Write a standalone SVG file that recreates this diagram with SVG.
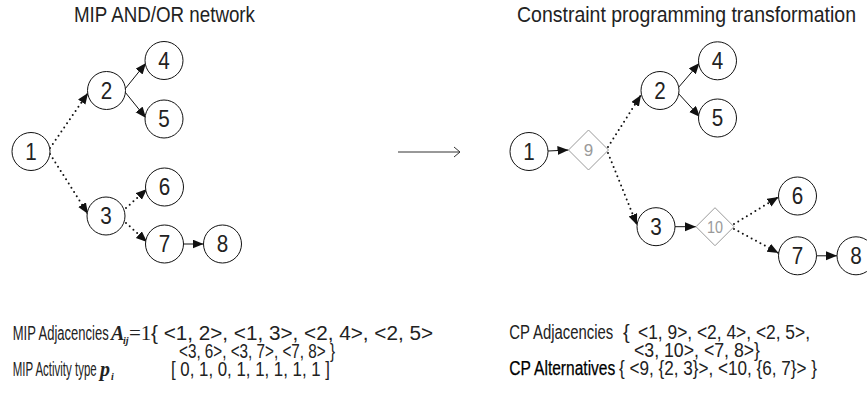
<svg xmlns="http://www.w3.org/2000/svg" width="867" height="395" viewBox="0 0 867 395">
<defs>
<style>
.t{font-family:"Liberation Sans",Arial,sans-serif;fill:#222}
.title{font-size:22px}
.n circle{fill:#fff;stroke:#111;stroke-width:1}
.n text{font-family:"Liberation Sans",Arial,sans-serif;font-size:24px;fill:#222;text-anchor:middle}
.d polygon{fill:#fff;stroke:#9a9a9a;stroke-width:1}
.d text{font-family:"Liberation Sans",Arial,sans-serif;font-size:17px;fill:#9a9a9a;text-anchor:middle}
.solid{fill:none;stroke:#111;stroke-width:1;marker-end:url(#ah)}
.dot{fill:none;stroke:#111;stroke-width:2;stroke-dasharray:0 5;stroke-linecap:round;marker-end:url(#ah)}
.lbl{font-family:"Liberation Sans",Arial,sans-serif;font-size:20px;fill:#222}
.math{font-family:"Liberation Serif","Times New Roman",serif;font-style:italic;font-weight:bold}
.eq{font-family:"Liberation Serif","Times New Roman",serif;font-size:21px}
.strong{fill:#000;stroke:#000;stroke-width:0.25}
</style>
<marker id="ah" markerUnits="userSpaceOnUse" markerWidth="12" markerHeight="10" refX="11" refY="4.5" orient="auto">
<path d="M0,0 L11,4.5 L0,9 z" fill="#111"/>
</marker>
</defs>

<text class="t title" x="74" y="22" textLength="181" lengthAdjust="spacingAndGlyphs">MIP AND/OR network</text>
<text class="t title" x="517" y="22" textLength="339" lengthAdjust="spacingAndGlyphs">Constraint programming transformation</text>

<g id="connectors">
<path class="dot" d="M50,148 L88,93"/>
<path class="dot" d="M50,154 L88,214"/>
<path class="solid" d="M125,89 L146,63"/>
<path class="solid" d="M125,92 L146,118"/>
<path class="dot" d="M126,208 L147,189"/>
<path class="dot" d="M126,223 L147,242"/>
<path class="solid" d="M183.5,244 L203.5,244"/>

<path d="M398,152 H460 M454,147 L460,152 L454,157" fill="none" stroke="#333" stroke-width="1"/>

<path class="solid" d="M548,151 L568.5,150"/>
<path class="dot" d="M608,147 L641,95"/>
<path class="dot" d="M608,153 L637,225"/>
<path class="solid" d="M678,88 L699.5,63"/>
<path class="solid" d="M678,93 L700,117"/>
<path class="solid" d="M675,226.7 L696,226.7"/>
<path class="dot" d="M734,224 L778.5,197"/>
<path class="dot" d="M734,229 L778.5,253"/>
<path class="solid" d="M816.5,255.8 L837,255.8"/>
</g>

<g id="L1" class="n"><circle cx="31" cy="151.5" r="19"/><text x="31" y="159.5" textLength="11.5" lengthAdjust="spacingAndGlyphs">1</text></g>
<g id="L2" class="n"><circle cx="106.5" cy="90.5" r="19"/><text x="106.5" y="98.5" textLength="11.5" lengthAdjust="spacingAndGlyphs">2</text></g>
<g id="L3" class="n"><circle cx="106" cy="216" r="19"/><text x="106" y="224" textLength="11.5" lengthAdjust="spacingAndGlyphs">3</text></g>
<g id="L4" class="n"><circle cx="164" cy="60.5" r="19"/><text x="164" y="68.5" textLength="11.5" lengthAdjust="spacingAndGlyphs">4</text></g>
<g id="L5" class="n"><circle cx="164" cy="119" r="19"/><text x="164" y="127" textLength="11.5" lengthAdjust="spacingAndGlyphs">5</text></g>
<g id="L6" class="n"><circle cx="164.5" cy="187" r="19"/><text x="164.5" y="195" textLength="11.5" lengthAdjust="spacingAndGlyphs">6</text></g>
<g id="L7" class="n"><circle cx="164.5" cy="244" r="19"/><text x="164.5" y="252" textLength="11.5" lengthAdjust="spacingAndGlyphs">7</text></g>
<g id="L8" class="n"><circle cx="222.5" cy="244" r="19"/><text x="222.5" y="252" textLength="11.5" lengthAdjust="spacingAndGlyphs">8</text></g>

<g id="R1" class="n"><circle cx="529" cy="151.5" r="19"/><text x="529" y="159.5" textLength="11.5" lengthAdjust="spacingAndGlyphs">1</text></g>
<g id="R9" class="d"><polygon points="568.5,150 588.5,130 608.5,150 588.5,170"/><text x="588.5" y="156">9</text></g>
<g id="R2" class="n"><circle cx="660" cy="90.5" r="19"/><text x="660" y="98.5" textLength="11.5" lengthAdjust="spacingAndGlyphs">2</text></g>
<g id="R4" class="n"><circle cx="717.5" cy="60.8" r="19"/><text x="717.5" y="68.8" textLength="11.5" lengthAdjust="spacingAndGlyphs">4</text></g>
<g id="R5" class="n"><circle cx="717.5" cy="118" r="19"/><text x="717.5" y="126" textLength="11.5" lengthAdjust="spacingAndGlyphs">5</text></g>
<g id="R3" class="n"><circle cx="656" cy="226.7" r="19"/><text x="656" y="234.7" textLength="11.5" lengthAdjust="spacingAndGlyphs">3</text></g>
<g id="R10" class="d"><polygon points="696,226.7 715,207.7 734,226.7 715,245.7"/><text x="715" y="232.7" textLength="16" lengthAdjust="spacingAndGlyphs">10</text></g>
<g id="R6" class="n"><circle cx="797.5" cy="196" r="19"/><text x="797.5" y="204" textLength="11.5" lengthAdjust="spacingAndGlyphs">6</text></g>
<g id="R7" class="n"><circle cx="797.5" cy="255.8" r="19"/><text x="797.5" y="263.8" textLength="11.5" lengthAdjust="spacingAndGlyphs">7</text></g>
<g id="R8" class="n"><circle cx="856" cy="255.8" r="19"/><text x="856" y="263.8" textLength="11.5" lengthAdjust="spacingAndGlyphs">8</text></g>

<g id="mip-text">
<text class="lbl" y="340"><tspan x="12.7" textLength="96" lengthAdjust="spacingAndGlyphs">MIP Adjacencies</tspan><tspan class="math" x="111">A</tspan><tspan class="math" x="123" dy="4" font-size="10">ij</tspan><tspan class="eq" x="129" dy="-4">=1</tspan><tspan x="151" textLength="282" lengthAdjust="spacingAndGlyphs">{ &lt;1, 2&gt;, &lt;1, 3&gt;, &lt;2, 4&gt;, &lt;2, 5&gt;</tspan></text>
<text class="lbl" x="179" y="357.5" textLength="156" lengthAdjust="spacingAndGlyphs">&lt;3, 6&gt;, &lt;3, 7&gt;, &lt;7, 8&gt; }</text>
<text class="lbl" y="375.5"><tspan x="12.7" textLength="84" lengthAdjust="spacingAndGlyphs">MIP Activity type</tspan><tspan class="math" x="100">p</tspan><tspan class="math" x="111" dy="4" font-size="10">i</tspan><tspan x="171" dy="-4" textLength="159" lengthAdjust="spacingAndGlyphs">[ 0, 1, 0, 1, 1, 1, 1, 1 ]</tspan></text>
</g>

<g id="cp-text">
<text class="lbl" y="339"><tspan x="509.3" textLength="104" lengthAdjust="spacingAndGlyphs">CP Adjacencies</tspan><tspan x="623">{</tspan><tspan x="638" textLength="172" lengthAdjust="spacingAndGlyphs">&lt;1, 9&gt;, &lt;2, 4&gt;, &lt;2, 5&gt;,</tspan></text>
<text class="lbl" x="634" y="356.5" textLength="126" lengthAdjust="spacingAndGlyphs">&lt;3, 10&gt;, &lt;7, 8&gt;}</text>
<text class="lbl" y="374.5"><tspan class="strong" x="509.3" textLength="106" lengthAdjust="spacingAndGlyphs">CP Alternatives</tspan><tspan x="619" textLength="198" lengthAdjust="spacingAndGlyphs">{ &lt;9, {2, 3}&gt;, &lt;10, {6, 7}&gt; }</tspan></text>
</g>
</svg>
